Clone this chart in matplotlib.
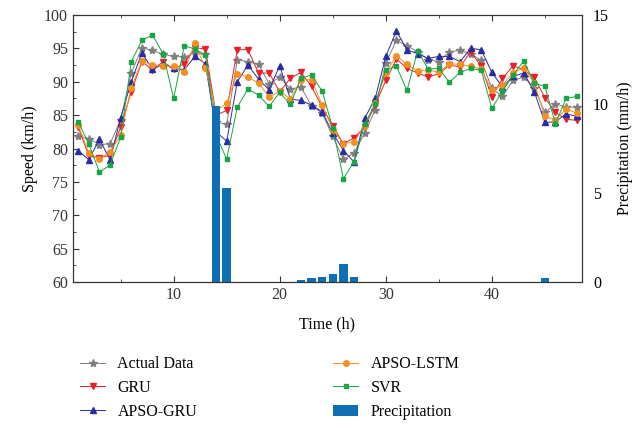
import numpy as np
import matplotlib
matplotlib.use("Agg")
import matplotlib.pyplot as plt
from matplotlib.ticker import MultipleLocator

# Datos (horas 1..48)
horas = list(range(1, 49))

actual = [81.9, 81.5, 80.6, 80.7, 84.3, 91.3, 95.1, 94.7, 94.1, 93.8,
          93.7, 94.3, 94.1, 84.0, 83.6, 93.3, 93.0, 92.6, 89.7, 90.7,
          88.9, 89.2, 86.4, 85.3, 81.8, 78.4, 79.3, 82.3, 85.8, 92.8,
          96.2, 95.4, 94.5, 93.3, 93.0, 94.5, 94.7, 94.2, 93.2, 89.0,
          87.8, 90.2, 90.7, 89.1, 85.4, 86.7, 86.2, 86.2]

gru = [83.2, 78.9, 78.6, 79.0, 83.2, 88.5, 93.0, 91.8, 93.0, 91.9,
       92.7, 95.1, 94.9, 85.0, 85.7, 94.8, 94.8, 91.3, 91.3, 88.5,
       90.5, 91.4, 89.3, 86.2, 83.4, 80.7, 81.6, 83.2, 86.5, 90.2,
       93.4, 92.0, 91.3, 90.7, 91.2, 92.5, 92.2, 94.5, 92.3, 87.7,
       90.5, 92.4, 91.8, 90.7, 87.6, 85.4, 84.4, 84.2]

apso_gru = [79.7, 78.3, 81.4, 78.3, 84.6, 90.0, 94.3, 91.9, 92.6, 92.0,
            91.8, 93.8, 92.7, 82.5, 81.1, 90.0, 92.5, 90.4, 88.8, 92.4,
            87.4, 87.2, 86.5, 85.5, 82.3, 79.7, 78.0, 84.5, 87.5, 93.8,
            97.6, 94.8, 94.2, 93.5, 93.8, 93.8, 93.0, 95.0, 94.8, 91.4,
            89.2, 90.8, 91.3, 88.5, 83.9, 84.0, 85.2, 84.8]

apso_lstm = [83.5, 79.3, 78.4, 79.5, 82.0, 89.1, 93.1, 92.5, 92.3, 92.3,
             91.5, 95.8, 92.0, 85.6, 86.8, 91.2, 90.7, 89.8, 87.7, 88.6,
             87.4, 90.3, 90.3, 86.5, 82.8, 80.7, 81.0, 83.4, 86.8, 91.3,
             93.9, 92.6, 91.6, 91.8, 91.4, 92.7, 92.6, 92.3, 91.9, 88.7,
             89.5, 91.3, 92.1, 89.8, 84.8, 84.3, 85.9, 85.3]

svr = [84.0, 80.7, 76.5, 77.5, 81.7, 93.0, 96.2, 97.0, 94.2, 87.5,
       95.4, 94.9, 94.0, 82.0, 78.4, 86.2, 88.9, 88.0, 86.3, 88.4,
       86.6, 90.5, 91.0, 88.6, 83.1, 75.5, 78.0, 83.6, 86.7, 91.8,
       92.3, 88.7, 94.6, 91.9, 92.0, 89.9, 91.4, 92.0, 91.7, 86.0,
       88.6, 91.0, 93.1, 89.8, 89.3, 83.7, 87.5, 87.8]

precipitacion = [0, 0, 0, 0, 0, 0, 0, 0, 0, 0,
                 0, 0, 0, 9.9, 5.3, 0, 0, 0, 0, 0,
                 0, 0.1, 0.2, 0.3, 0.45, 1.0, 0.3, 0, 0, 0,
                 0, 0, 0, 0, 0, 0, 0, 0, 0, 0,
                 0, 0, 0, 0, 0.2, 0, 0, 0]

plt.rcParams['font.family'] = ['Liberation Serif', 'DejaVu Serif']
plt.rcParams['font.size'] = 11.5

fig = plt.figure(figsize=(6.34, 4.28), dpi=100)
ax = fig.add_axes([0.115, 0.341, 0.803, 0.624])

series = [
    (actual, "Actual Data", "#808080", "*", 6),
    (gru, "GRU", "#e8202a", "v", 4),
    (apso_gru, "APSO-GRU", "#2b2ba3", "^", 4),
    (apso_lstm, "APSO-LSTM", "#f5901e", "o", 4),
    (svr, "SVR", "#17a545", "s", 3.5),
]
handles = []
for valores, nombre, color, marca, tam in series:
    h, = ax.plot(horas, valores, color=color, marker=marca, markersize=tam,
                 linewidth=0.7, label=nombre)
    handles.append(h)

ax.set_xlim(0.5, 48.5)
ax.set_ylim(60, 100)
ax.xaxis.set_major_locator(MultipleLocator(10))
ax.xaxis.set_minor_locator(MultipleLocator(5))
ax.yaxis.set_major_locator(MultipleLocator(5))
ax.yaxis.set_minor_locator(MultipleLocator(2.5))
ax.tick_params(which='both', direction='in', top=True, right=True, colors='#333333')
ax.tick_params(which='major', length=4)
ax.tick_params(which='minor', length=2.5)
ax.set_xlabel("Time (h)", labelpad=10)
ax.set_ylabel("Speed (km/h)")

# Eje derecho con la precipitacion
ax2 = ax.twinx()
barras = ax2.bar(horas, precipitacion, width=0.8, color="#0f6fb5", label="Precipitation")
ax2.set_ylim(0, 15)
ax2.yaxis.set_major_locator(MultipleLocator(5))
ax2.tick_params(length=0, pad=8)
ax2.set_ylabel("Precipitation (mm/h)", labelpad=6)
for s in ax2.spines.values():
    s.set_color('#333333')
for s in ax.spines.values():
    s.set_color('#333333')

orden = handles[:3] + [handles[3], handles[4], barras]
fig.legend(orden, [h.get_label() for h in orden], ncol=2, frameon=False,
           loc='upper left', bbox_to_anchor=(0.126, 0.168), handlelength=1.6,
           handletextpad=0.75, columnspacing=8.5, labelspacing=0.5,
           borderaxespad=0, borderpad=0)

fig.savefig("out.png", dpi=100)
